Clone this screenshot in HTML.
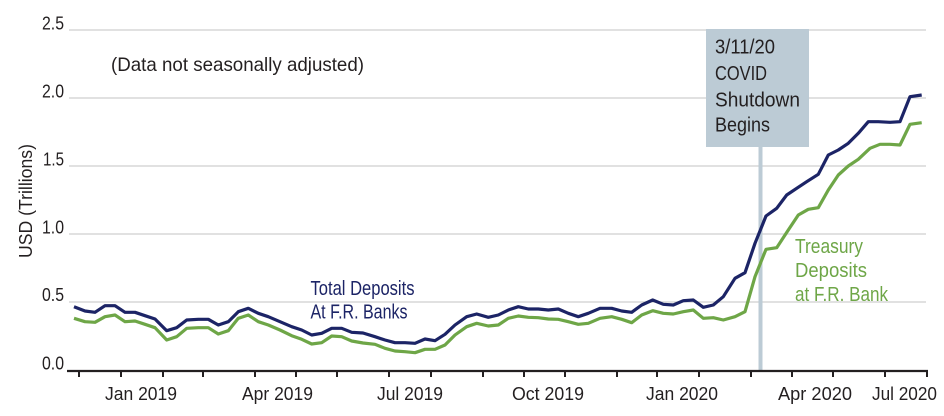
<!DOCTYPE html>
<html><head><meta charset="utf-8"><style>
html,body{margin:0;padding:0;background:#fff;}
svg{display:block;}
text{font-family:"Liberation Sans",sans-serif;}
.k{fill:#231f20;}
.nv{fill:#1c2466;}
.gr{fill:#6ea647;}
</style></head><body>
<svg width="944" height="416" viewBox="0 0 944 416" xmlns="http://www.w3.org/2000/svg">
<rect width="944" height="416" fill="#fff"/>
<!-- gridlines -->
<g stroke="#cfcfcf" stroke-width="1.3">
<line x1="69" y1="30" x2="926" y2="30"/>
<line x1="69" y1="98" x2="926" y2="98"/>
<line x1="69" y1="166" x2="926" y2="166"/>
<line x1="69" y1="234" x2="926" y2="234"/>
<line x1="69" y1="302" x2="926" y2="302"/>
</g>
<!-- y tick labels -->
<g font-size="18" text-anchor="end" class="k">
<text class="k" x="64" y="29.5" textLength="22" lengthAdjust="spacingAndGlyphs">2.5</text>
<text class="k" x="64" y="97.5" textLength="22" lengthAdjust="spacingAndGlyphs">2.0</text>
<text class="k" x="64" y="165.5" textLength="21" lengthAdjust="spacingAndGlyphs">1.5</text>
<text class="k" x="64" y="233.5" textLength="22" lengthAdjust="spacingAndGlyphs">1.0</text>
<text class="k" x="64" y="301" textLength="22" lengthAdjust="spacingAndGlyphs">0.5</text>
<text class="k" x="64" y="369.5" textLength="22" lengthAdjust="spacingAndGlyphs">0.0</text>
</g>
<!-- y title -->
<text class="k" transform="translate(32,201) rotate(-90)" font-size="18" text-anchor="middle" textLength="114" lengthAdjust="spacingAndGlyphs">USD (Trillions)</text>
<!-- note -->
<text class="k" x="111" y="71" font-size="19.5" textLength="253" lengthAdjust="spacingAndGlyphs">(Data not seasonally adjusted)</text>
<!-- annotation box -->
<rect x="706" y="29" width="103" height="118" fill="#bccbd5"/>
<rect x="758.5" y="147" width="4" height="223" fill="#bccbd5"/>
<g font-size="20">
<text class="k" x="715" y="53.3" textLength="60" lengthAdjust="spacingAndGlyphs">3/11/20</text>
<text class="k" x="715" y="80" textLength="52" lengthAdjust="spacingAndGlyphs">COVID</text>
<text class="k" x="715" y="106.7" textLength="85" lengthAdjust="spacingAndGlyphs">Shutdown</text>
<text class="k" x="715" y="131.7" textLength="55" lengthAdjust="spacingAndGlyphs">Begins</text>
</g>
<!-- series -->
<polyline fill="none" stroke="#6ea647" stroke-width="3.2" stroke-linejoin="round" points="74,318.3 85,321.7 95,322.3 105,316.7 115,315 125,321.7 135,321 145,324.3 155,327.7 166.7,340 176.7,336.7 186.7,328.3 198.3,327.7 208.3,327.7 218.3,334 228.3,330.7 238.3,318.3 248.3,315 258.3,321.7 268.3,325 280,330 291.7,335.7 301.7,339.3 311.7,344 321.7,342.7 331.7,336 341.7,336.7 351.7,341 363,343 375,344.3 385,348.3 395,351 405,351.7 415,352.7 425,349.3 435,349.3 445,345 455,335 466.7,326.7 476.7,323.3 488.3,326 498.3,325 508.3,318.3 518.3,316 528.3,317.3 538.3,317.7 548.3,319 558.3,319.3 568.3,321.7 578.3,324.3 588.3,323.3 600,318.3 611.7,316.7 621.7,319.3 631.7,322.7 641.7,315 652.7,310.7 663.3,313.3 673.3,314 683.3,311.7 693.3,310 703.3,318.3 713.3,317.7 723.3,320 735,316.7 745,311.7 755,276.7 766,249.3 776.7,247.7 788.3,230 798.3,215 808.3,209.3 818.3,207.7 828.3,190 838.3,175 848.3,166 858.3,159.3 870,148.3 880,144.3 890,144.3 900,145 910,124.3 921.7,122.7"/>
<polyline fill="none" stroke="#1c2466" stroke-width="3.2" stroke-linejoin="round" points="74,306.7 85,311 95,312.3 105,305.7 115,305.7 125,312.3 135,312.3 145,315.7 155,319 166.7,330.7 176.7,327.7 186.7,320 198.3,319.3 208.3,319.3 218.3,325 228.3,321.7 238.3,311.7 248.3,308.3 258.3,313.3 268.3,316.7 280,321.7 291.7,326.7 301.7,330 311.7,335 321.7,333.3 331.7,328.3 341.7,328.3 351.7,332.3 363,333 375,336.7 385,340 395,342.7 405,342.7 415,343.3 425,339 435,340.7 445,334.3 455,325 466.7,316.7 476.7,314 488.3,317.3 498.3,315 508.3,310 518.3,306.7 528.3,309 538.3,309 548.3,310 558.3,309 568.3,313.3 578.3,316.7 588.3,313.3 600,308.3 611.7,308.3 621.7,311 631.7,312.3 641.7,305 652.7,300 663.3,304.3 673.3,305 683.3,300.7 693.3,300 703.3,307.3 713.3,305 723.3,296.7 735,278.3 745,272.7 755,243.3 766,216 776.7,208.3 786.7,195 796.7,188.3 806.7,181.7 818.3,174.3 828.3,155 838.3,150 848.3,143.3 858.3,133.3 868.3,121.7 878.3,121.7 890,122.3 900,121.7 910,96.7 921.7,95"/>
<!-- series labels -->
<g font-size="20">
<text class="nv" x="310.5" y="295" textLength="104" lengthAdjust="spacingAndGlyphs">Total Deposits</text>
<text class="nv" x="310.5" y="318.5" textLength="97" lengthAdjust="spacingAndGlyphs">At F.R. Banks</text>
<text class="gr" x="795" y="253" textLength="68" lengthAdjust="spacingAndGlyphs">Treasury</text>
<text class="gr" x="795" y="277" textLength="72" lengthAdjust="spacingAndGlyphs">Deposits</text>
<text class="gr" x="795" y="301" textLength="93" lengthAdjust="spacingAndGlyphs">at F.R. Bank</text>
</g>
<!-- x axis -->
<line x1="67" y1="371" x2="928" y2="371" stroke="#231f20" stroke-width="2.2"/>
<g stroke="#231f20" stroke-width="2">
<line x1="79" y1="371" x2="79" y2="377"/>
<line x1="121" y1="371" x2="121" y2="377"/>
<line x1="163" y1="371" x2="163" y2="377"/>
<line x1="203" y1="371" x2="203" y2="377"/>
<line x1="255" y1="371" x2="255" y2="377"/>
<line x1="296" y1="371" x2="296" y2="377"/>
<line x1="337" y1="371" x2="337" y2="377"/>
<line x1="389" y1="371" x2="389" y2="377"/>
<line x1="431" y1="371" x2="431" y2="377"/>
<line x1="483" y1="371" x2="483" y2="377"/>
<line x1="524" y1="371" x2="524" y2="377"/>
<line x1="565" y1="371" x2="565" y2="377"/>
<line x1="617" y1="371" x2="617" y2="377"/>
<line x1="657" y1="371" x2="657" y2="377"/>
<line x1="699" y1="371" x2="699" y2="377"/>
<line x1="751" y1="371" x2="751" y2="377"/>
<line x1="792" y1="371" x2="792" y2="377"/>
<line x1="833" y1="371" x2="833" y2="377"/>
<line x1="885" y1="371" x2="885" y2="377"/>
<line x1="927" y1="371" x2="927" y2="377"/>
</g>
<g font-size="18.5">
<text class="k" x="105" y="400" textLength="72" lengthAdjust="spacingAndGlyphs">Jan 2019</text>
<text class="k" x="242" y="400" textLength="71" lengthAdjust="spacingAndGlyphs">Apr 2019</text>
<text class="k" x="377" y="400" textLength="66" lengthAdjust="spacingAndGlyphs">Jul 2019</text>
<text class="k" x="512" y="400" textLength="72" lengthAdjust="spacingAndGlyphs">Oct 2019</text>
<text class="k" x="646" y="400" textLength="72" lengthAdjust="spacingAndGlyphs">Jan 2020</text>
<text class="k" x="778" y="400" textLength="74" lengthAdjust="spacingAndGlyphs">Apr 2020</text>
<text class="k" x="872" y="400" textLength="65" lengthAdjust="spacingAndGlyphs">Jul 2020</text>
</g>
</svg>
</body></html>
